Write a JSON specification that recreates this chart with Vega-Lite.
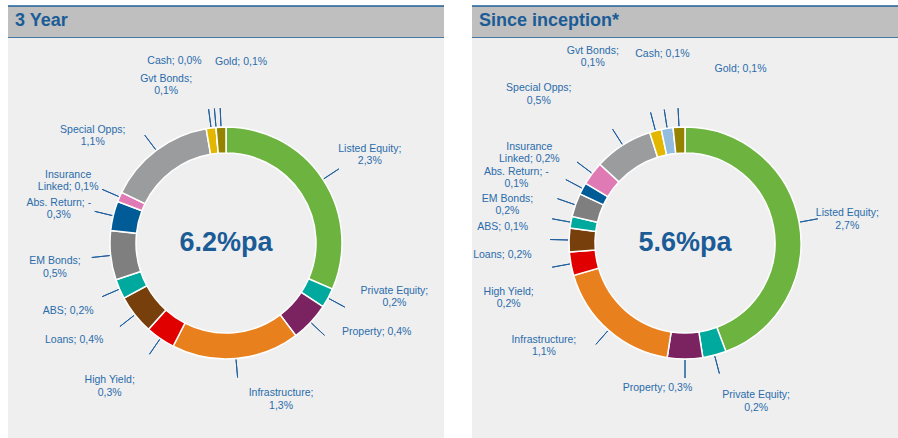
{
  "$schema": "https://vega.github.io/schema/vega-lite/v6.json",
  "background": "white",
  "padding": {"left": 7, "top": 5, "right": 0, "bottom": 0},
  "config": {"view": {"stroke": null}, "font": "Liberation Sans"},
  "datasets": {
    "threeYear": [
      {"ord": 1, "cat": "Listed Equity", "contribution": 2.3, "label": "Listed Equity;\n2,3%"},
      {"ord": 2, "cat": "Private Equity", "contribution": 0.2, "label": "Private Equity;\n0,2%"},
      {"ord": 3, "cat": "Property", "contribution": 0.4, "label": "Property; 0,4%"},
      {"ord": 4, "cat": "Infrastructure", "contribution": 1.3, "label": "Infrastructure;\n1,3%"},
      {"ord": 5, "cat": "High Yield", "contribution": 0.3, "label": "High Yield;\n0,3%"},
      {"ord": 6, "cat": "Loans", "contribution": 0.4, "label": "Loans; 0,4%"},
      {"ord": 7, "cat": "ABS", "contribution": 0.2, "label": "ABS; 0,2%"},
      {"ord": 8, "cat": "EM Bonds", "contribution": 0.5, "label": "EM Bonds;\n0,5%"},
      {"ord": 9, "cat": "Abs. Return", "contribution": -0.3, "label": "Abs. Return; -\n0,3%"},
      {"ord": 10, "cat": "Insurance Linked", "contribution": 0.1, "label": "Insurance\nLinked; 0,1%"},
      {"ord": 11, "cat": "Special Opps", "contribution": 1.1, "label": "Special Opps;\n1,1%"},
      {"ord": 12, "cat": "Gvt Bonds", "contribution": 0.1, "label": "Gvt Bonds;\n0,1%"},
      {"ord": 13, "cat": "Cash", "contribution": 0.0, "label": "Cash; 0,0%"},
      {"ord": 14, "cat": "Gold", "contribution": 0.1, "label": "Gold; 0,1%"}
    ],
    "sinceInception": [
      {"ord": 1, "cat": "Listed Equity", "contribution": 2.7, "label": "Listed Equity;\n2,7%"},
      {"ord": 2, "cat": "Private Equity", "contribution": 0.2, "label": "Private Equity;\n0,2%"},
      {"ord": 3, "cat": "Property", "contribution": 0.3, "label": "Property; 0,3%"},
      {"ord": 4, "cat": "Infrastructure", "contribution": 1.1, "label": "Infrastructure;\n1,1%"},
      {"ord": 5, "cat": "High Yield", "contribution": 0.2, "label": "High Yield;\n0,2%"},
      {"ord": 6, "cat": "Loans", "contribution": 0.2, "label": "Loans; 0,2%"},
      {"ord": 7, "cat": "ABS", "contribution": 0.1, "label": "ABS; 0,1%"},
      {"ord": 8, "cat": "EM Bonds", "contribution": 0.2, "label": "EM Bonds;\n0,2%"},
      {"ord": 9, "cat": "Abs. Return", "contribution": -0.1, "label": "Abs. Return; -\n0,1%"},
      {"ord": 10, "cat": "Insurance Linked", "contribution": 0.2, "label": "Insurance\nLinked; 0,2%"},
      {"ord": 11, "cat": "Special Opps", "contribution": 0.5, "label": "Special Opps;\n0,5%"},
      {"ord": 12, "cat": "Gvt Bonds", "contribution": 0.1, "label": "Gvt Bonds;\n0,1%"},
      {"ord": 13, "cat": "Cash", "contribution": 0.1, "label": "Cash; 0,1%"},
      {"ord": 14, "cat": "Gold", "contribution": 0.1, "label": "Gold; 0,1%"}
    ]
  },
  "spacing": 26,
  "hconcat": [
    {
      "spacing": 0,
      "bounds": "flush",
      "vconcat": [
        {
          "width": 436, "height": 32,
          "view": {"fill": "#bfbfbf", "stroke": "#1f5f99", "strokeWidth": 1.5, "strokeDash": [436, 32, 436, 32]},
          "title": {"text": "3 Year", "anchor": "start", "frame": "group", "offset": -24, "dx": 7, "fontSize": 18, "fontWeight": "bold", "color": "#1b5c97", "font": "Liberation Sans"},
          "data": {"values": [{"t": ""}]},
          "mark": {"type": "text"},
          "encoding": {"text": {"field": "t"}}
        },
        {
          "width": 436, "height": 410,
          "view": {"fill": "#efefef", "stroke": null},
          "data": {"name": "threeYear"},
          "transform": [{"calculate": "abs(datum.contribution)", "as": "size"}],
          "layer": [
            {
              "mark": {"type": "arc", "innerRadius": 90, "outerRadius": 116, "stroke": "#ffffff", "strokeWidth": 1.5},
              "encoding": {
                "theta": {"field": "size", "type": "quantitative", "stack": true},
                "order": {"field": "ord", "type": "quantitative"},
                "color": {"field": "cat", "type": "nominal", "legend": null,
                  "scale": {"domain": ["Listed Equity","Private Equity","Property","Infrastructure","High Yield","Loans","ABS","EM Bonds","Abs. Return","Insurance Linked","Special Opps","Gvt Bonds","Cash","Gold"],
                            "range": ["#6db33f","#00a99d","#7b2360","#e8801e","#e00000","#773f0c","#00a99d","#7f7f7f","#005b96","#e07ab5","#9a9c9e","#e3b700","#93bde0","#958300"]}}
              }
            },
            {
              "mark": {"type": "arc", "innerRadius": 117, "outerRadius": 135, "padAngle": 3, "stroke": "#1f5f9f", "strokeWidth": 1, "fillOpacity": 0},
              "encoding": {
                "theta": {"field": "size", "type": "quantitative", "stack": true},
                "order": {"field": "ord", "type": "quantitative"},
                "detail": {"field": "cat"}
              }
            },
            {
              "mark": {"type": "text", "radius": 172, "thetaOffset": 0, "fontSize": 10.5, "lineHeight": 12.5, "lineBreak": "\n", "color": "#2a6cab", "align": "center", "baseline": "middle"},
              "encoding": {
                "theta": {"field": "size", "type": "quantitative", "stack": true},
                "order": {"field": "ord", "type": "quantitative"},
                "detail": {"field": "cat"},
                "text": {"condition": {"test": "indexof(['Listed Equity','ABS','EM Bonds','Abs. Return','Insurance Linked'], datum.cat) >= 0", "field": "label"}, "value": ""}
              }
            },
            {
              "mark": {"type": "text", "radius": 180, "thetaOffset": 0.1, "fontSize": 10.5, "lineHeight": 12.5, "lineBreak": "\n", "color": "#2a6cab", "align": "center", "baseline": "middle"},
              "encoding": {
                "theta": {"field": "size", "type": "quantitative", "stack": true},
                "order": {"field": "ord", "type": "quantitative"},
                "detail": {"field": "cat"},
                "text": {"condition": {"test": "indexof(['High Yield','Loans'], datum.cat) >= 0", "field": "label"}, "value": ""}
              }
            },
            {
              "mark": {"type": "text", "radius": 175, "thetaOffset": -0.22, "fontSize": 10.5, "lineHeight": 12.5, "lineBreak": "\n", "color": "#2a6cab", "align": "center", "baseline": "middle"},
              "encoding": {
                "theta": {"field": "size", "type": "quantitative", "stack": true},
                "order": {"field": "ord", "type": "quantitative"},
                "detail": {"field": "cat"},
                "text": {"condition": {"test": "indexof(['Private Equity','Property','Special Opps','Gvt Bonds'], datum.cat) >= 0", "field": "label"}, "value": ""}
              }
            },
            {
              "mark": {"type": "text", "radius": 160, "thetaOffset": -0.265, "fontSize": 10.5, "lineHeight": 12.5, "lineBreak": "\n", "color": "#2a6cab", "align": "center", "baseline": "middle"},
              "encoding": {
                "theta": {"field": "size", "type": "quantitative", "stack": true},
                "order": {"field": "ord", "type": "quantitative"},
                "detail": {"field": "cat"},
                "text": {"condition": {"test": "datum.cat === 'Infrastructure'", "field": "label"}, "value": ""}
              }
            },
            {
              "mark": {"type": "text", "radius": 189, "thetaOffset": -0.19, "fontSize": 10.5, "lineHeight": 12.5, "lineBreak": "\n", "color": "#2a6cab", "align": "center", "baseline": "middle"},
              "encoding": {
                "theta": {"field": "size", "type": "quantitative", "stack": true},
                "order": {"field": "ord", "type": "quantitative"},
                "detail": {"field": "cat"},
                "text": {"condition": {"test": "datum.cat === 'Cash'", "field": "label"}, "value": ""}
              }
            },
            {
              "mark": {"type": "text", "radius": 182, "thetaOffset": 0.126, "fontSize": 10.5, "lineHeight": 12.5, "lineBreak": "\n", "color": "#2a6cab", "align": "center", "baseline": "middle"},
              "encoding": {
                "theta": {"field": "size", "type": "quantitative", "stack": true},
                "order": {"field": "ord", "type": "quantitative"},
                "detail": {"field": "cat"},
                "text": {"condition": {"test": "datum.cat === 'Gold'", "field": "label"}, "value": ""}
              }
            },
            {
              "data": {"values": [{"t": "6.2%pa"}]},
              "mark": {"type": "text", "fontSize": 27, "fontWeight": "bold", "color": "#1b5c97", "align": "center", "baseline": "middle"},
              "encoding": {"text": {"field": "t"}}
            }
          ]
        }
      ]
    },
    {
      "spacing": 0,
      "bounds": "flush",
      "vconcat": [
        {
          "width": 426, "height": 32,
          "view": {"fill": "#bfbfbf", "stroke": "#1f5f99", "strokeWidth": 1.5, "strokeDash": [426, 32, 426, 32]},
          "title": {"text": "Since inception*", "anchor": "start", "frame": "group", "offset": -24, "dx": 7, "fontSize": 18, "fontWeight": "bold", "color": "#1b5c97", "font": "Liberation Sans"},
          "data": {"values": [{"t": ""}]},
          "mark": {"type": "text"},
          "encoding": {"text": {"field": "t"}}
        },
        {
          "width": 426, "height": 410,
          "view": {"fill": "#efefef", "stroke": null},
          "data": {"name": "sinceInception"},
          "transform": [{"calculate": "abs(datum.contribution)", "as": "size"}],
          "layer": [
            {
              "mark": {"type": "arc", "innerRadius": 90, "outerRadius": 116, "stroke": "#ffffff", "strokeWidth": 1.5},
              "encoding": {
                "theta": {"field": "size", "type": "quantitative", "stack": true},
                "order": {"field": "ord", "type": "quantitative"},
                "color": {"field": "cat", "type": "nominal", "legend": null,
                  "scale": {"domain": ["Listed Equity","Private Equity","Property","Infrastructure","High Yield","Loans","ABS","EM Bonds","Abs. Return","Insurance Linked","Special Opps","Gvt Bonds","Cash","Gold"],
                            "range": ["#6db33f","#00a99d","#7b2360","#e8801e","#e00000","#773f0c","#00a99d","#7f7f7f","#005b96","#e07ab5","#9a9c9e","#e3b700","#93bde0","#958300"]}}
              }
            },
            {
              "mark": {"type": "arc", "innerRadius": 117, "outerRadius": 135, "padAngle": 3, "stroke": "#1f5f9f", "strokeWidth": 1, "fillOpacity": 0},
              "encoding": {
                "theta": {"field": "size", "type": "quantitative", "stack": true},
                "order": {"field": "ord", "type": "quantitative"},
                "detail": {"field": "cat"}
              }
            },
            {
              "mark": {"type": "text", "radius": 165, "thetaOffset": 0, "fontSize": 10.5, "lineHeight": 12.5, "lineBreak": "\n", "color": "#2a6cab", "align": "center", "baseline": "middle"},
              "encoding": {
                "theta": {"field": "size", "type": "quantitative", "stack": true},
                "order": {"field": "ord", "type": "quantitative"},
                "detail": {"field": "cat"},
                "text": {"condition": {"test": "datum.cat === 'Listed Equity'", "field": "label"}, "value": ""}
              }
            },
            {
              "mark": {"type": "text", "radius": 183, "thetaOffset": -0.09, "fontSize": 10.5, "lineHeight": 12.5, "lineBreak": "\n", "color": "#2a6cab", "align": "center", "baseline": "middle"},
              "encoding": {
                "theta": {"field": "size", "type": "quantitative", "stack": true},
                "order": {"field": "ord", "type": "quantitative"},
                "detail": {"field": "cat"},
                "text": {"condition": {"test": "indexof(['High Yield','Loans','ABS','EM Bonds','Abs. Return','Insurance Linked'], datum.cat) >= 0", "field": "label"}, "value": ""}
              }
            },
            {
              "mark": {"type": "text", "radius": 168, "thetaOffset": -0.18, "fontSize": 10.5, "lineHeight": 12.5, "lineBreak": "\n", "color": "#2a6cab", "align": "center", "baseline": "middle"},
              "encoding": {
                "theta": {"field": "size", "type": "quantitative", "stack": true},
                "order": {"field": "ord", "type": "quantitative"},
                "detail": {"field": "cat"},
                "text": {"condition": {"test": "datum.cat === 'Private Equity'", "field": "label"}, "value": ""}
              }
            },
            {
              "mark": {"type": "text", "radius": 148, "thetaOffset": 0.187, "fontSize": 10.5, "lineHeight": 12.5, "lineBreak": "\n", "color": "#2a6cab", "align": "center", "baseline": "middle"},
              "encoding": {
                "theta": {"field": "size", "type": "quantitative", "stack": true},
                "order": {"field": "ord", "type": "quantitative"},
                "detail": {"field": "cat"},
                "text": {"condition": {"test": "datum.cat === 'Property'", "field": "label"}, "value": ""}
              }
            },
            {
              "mark": {"type": "text", "radius": 171, "thetaOffset": 0.25, "fontSize": 10.5, "lineHeight": 12.5, "lineBreak": "\n", "color": "#2a6cab", "align": "center", "baseline": "middle"},
              "encoding": {
                "theta": {"field": "size", "type": "quantitative", "stack": true},
                "order": {"field": "ord", "type": "quantitative"},
                "detail": {"field": "cat"},
                "text": {"condition": {"test": "datum.cat === 'Infrastructure'", "field": "label"}, "value": ""}
              }
            },
            {
              "mark": {"type": "text", "radius": 213, "thetaOffset": -0.19, "fontSize": 10.5, "lineHeight": 12.5, "lineBreak": "\n", "color": "#2a6cab", "align": "center", "baseline": "middle"},
              "encoding": {
                "theta": {"field": "size", "type": "quantitative", "stack": true},
                "order": {"field": "ord", "type": "quantitative"},
                "detail": {"field": "cat"},
                "text": {"condition": {"test": "indexof(['Special Opps','Gvt Bonds'], datum.cat) >= 0", "field": "label"}, "value": ""}
              }
            },
            {
              "mark": {"type": "text", "radius": 190, "thetaOffset": 0.035, "fontSize": 10.5, "lineHeight": 12.5, "lineBreak": "\n", "color": "#2a6cab", "align": "center", "baseline": "middle"},
              "encoding": {
                "theta": {"field": "size", "type": "quantitative", "stack": true},
                "order": {"field": "ord", "type": "quantitative"},
                "detail": {"field": "cat"},
                "text": {"condition": {"test": "datum.cat === 'Cash'", "field": "label"}, "value": ""}
              }
            },
            {
              "mark": {"type": "text", "radius": 183, "thetaOffset": 0.36, "fontSize": 10.5, "lineHeight": 12.5, "lineBreak": "\n", "color": "#2a6cab", "align": "center", "baseline": "middle"},
              "encoding": {
                "theta": {"field": "size", "type": "quantitative", "stack": true},
                "order": {"field": "ord", "type": "quantitative"},
                "detail": {"field": "cat"},
                "text": {"condition": {"test": "datum.cat === 'Gold'", "field": "label"}, "value": ""}
              }
            },
            {
              "data": {"values": [{"t": "5.6%pa"}]},
              "mark": {"type": "text", "fontSize": 27, "fontWeight": "bold", "color": "#1b5c97", "align": "center", "baseline": "middle"},
              "encoding": {"text": {"field": "t"}}
            }
          ]
        }
      ]
    }
  ]
}
